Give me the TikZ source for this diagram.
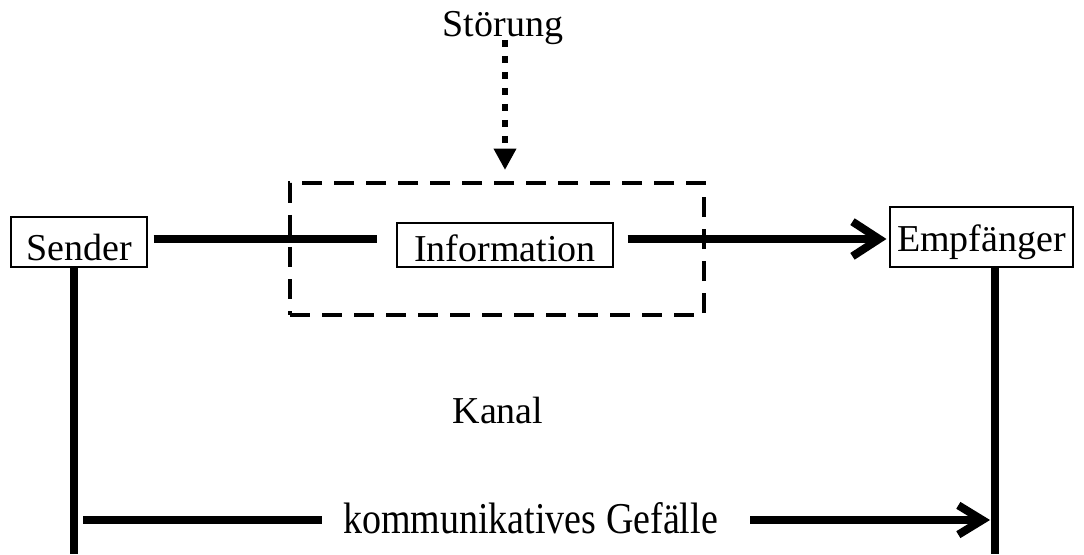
\documentclass[tikz,border=0pt]{standalone}
\usepackage{fontspec}
\usepackage{graphicx}
\setmainfont{Liberation Serif}
\usetikzlibrary{arrows.meta,calc}
\begin{document}
\begin{tikzpicture}[x=0.75pt,y=0.75pt,
  every node/.style={font=\fontsize{28.5}{32}\selectfont},
  labelbox/.style={draw,line width=0.8pt,inner sep=0pt,text depth=0pt},
  thickline/.style={line width=6pt},
  barb/.style={-{Straight Barb[length=20pt,width=26pt]}},
  smallbarb/.style={-{Straight Barb[length=18pt,width=22pt]}},
  channel/.style={draw,line width=3pt,dash pattern=on 15pt off 9pt,inner sep=0pt},
  noise/.style={line width=5pt,dash pattern=on 5pt off 7pt,-{Triangle[length=16pt,width=16pt]}}
]
\useasboundingbox (0,0) rectangle (1084,554);

% nodes
\node[labelbox,text height=27pt,minimum width=102pt,minimum height=37.5pt] (sender) at (79,312) {Sender};
\node[labelbox,text height=25.5pt,minimum width=162pt,minimum height=33pt] (info) at (505,309) {Information};
\node[labelbox,text height=22.5pt,minimum width=137.25pt,minimum height=45pt] (empf) at (981.5,317) {Empfänger};
\node[channel,minimum width=310.5pt,minimum height=99pt] (kanalbox) at (497,305) {};
\node[anchor=base] (stoerung) at (503,517) {Störung};
\node (kanal) at (498,144) {Kanal};
\node[inner xsep=15.75pt,inner ysep=0pt,text depth=0pt] (kg) at (530.5,36)
  {\fontsize{33}{36}\selectfont\scalebox{0.864}[1]{kommunikatives Gefälle}};

% coordinates
\coordinate (sbot) at (74,0);
\coordinate (ebot) at (995,0);
\coordinate (stend) at (505,384);
\coordinate (kstart) at (83,34);
\coordinate (kend) at (990,34);

% connectors
\draw[thickline] ($(sender.east)+(6,3)$) -- ($(info.west)+(-19,6)$);
\draw[thickline,barb] ($(info.east)+(14,6)$) -- ($(empf.west)+(-3,-2)$);
\draw[noise] ($(stoerung.base)+(2,-3)$) -- (stend);
\draw[thickline] ($(sender.south)+(-5,0)$) -- (sbot);
\draw[thickline] ($(empf.south)+(13.5,0)$) -- (ebot);
\draw[thickline] (kstart) -- (kstart -| kg.west);
\draw[thickline,smallbarb] ($(kg.east |- kstart)+(11,0)$) -- (kend);
\end{tikzpicture}
\end{document}
